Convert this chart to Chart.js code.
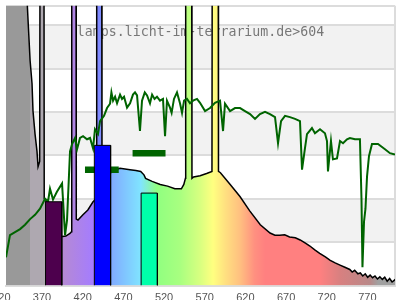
<!DOCTYPE html>
<html>
<head>
<meta charset="utf-8">
<script src="https://cdn.jsdelivr.net/npm/chart.js@4/dist/chart.umd.min.js"></script>
<style>
    html, body { margin: 0; padding: 0; background: #fff; overflow: hidden; }
    #wrap { position: relative; width: 400px; height: 312px; }
</style>
</head>
<body>
<div id="wrap"><canvas id="grafico"></canvas></div>
<script>
// wavelength ticks (nm)
const tickNm = [320, 370, 420, 470, 520, 570, 620, 670, 720, 770];

// lamp spectrum (relative units, 1 = one grid band)
const lampNm = [321, 346, 347.3, 348.5, 351, 353.4, 354.6, 357.1, 359.5, 360.8, 362.8, 363.2, 368.1, 368.4, 372, 388, 391, 395, 400, 401.9, 402.2, 407.5, 407.8, 409.9, 416, 422, 428.4, 432.6, 432.9, 439.1, 439.4, 449.3, 453, 461.6, 473.9, 481, 487, 491, 493, 501, 511, 520, 529, 537, 540, 542, 542.3, 549.7, 550, 552, 560, 568, 574.6, 574.9, 582.3, 582.6, 585, 597, 609, 621, 634, 646, 652, 658, 664, 670, 677, 683, 689, 695, 701, 707, 714, 720, 726, 732, 738, 744, 747, 750, 754, 757, 760, 763, 766, 769, 772, 775, 778, 781, 784, 787, 790, 793, 796, 800];
const lampVal = [7.5, 7.5, 6.58, 6.12, 5.19, 4.65, 4.02, 3.49, 3.09, 2.74, 2.86, 7.5, 7.5, 2.0, 1.9, 1.15, 1.13, 1.14, 1.2, 1.24, 7.5, 7.5, 1.53, 1.51, 1.63, 1.74, 1.93, 2.0, 7.5, 7.5, 2.3, 2.58, 2.65, 2.70, 2.67, 2.65, 2.63, 2.55, 2.47, 2.40, 2.33, 2.29, 2.23, 2.23, 2.33, 2.47, 7.5, 7.5, 2.47, 2.50, 2.53, 2.58, 2.63, 7.5, 7.5, 2.63, 2.6, 2.33, 2.05, 1.72, 1.40, 1.21, 1.16, 1.16, 1.17, 1.12, 1.10, 1.05, 0.98, 0.91, 0.82, 0.74, 0.66, 0.58, 0.52, 0.47, 0.42, 0.37, 0.31, 0.35, 0.27, 0.29, 0.22, 0.27, 0.19, 0.24, 0.18, 0.22, 0.15, 0.2, 0.14, 0.19, 0.1, 0.16, 0.08, 0.14];

// daylight reference
const sunNm = [321.4, 326.3, 332.5, 338.7, 344.8, 351, 357.1, 363.2, 369.4, 373, 375.5, 379.2, 384, 390.3, 394, 396.4, 400.1, 402.6, 406.3, 408.7, 412.4, 416.1, 421, 424.7, 428.4, 430.8, 434.5, 437, 441.9, 445.6, 449.3, 451, 453, 455.5, 457.9, 461.6, 464, 466.5, 470.2, 473.9, 477.5, 480, 482.5, 486.1, 488.6, 492, 494.8, 498.4, 501, 504, 507, 510.7, 514.4, 516.9, 519.3, 523, 525, 527.9, 531.6, 535.3, 537.8, 540.3, 543.9, 547.6, 551.3, 556.2, 559.9, 566.1, 572.2, 578.3, 584.5, 588.2, 590.6, 596.8, 602.9, 609.1, 615.2, 621.4, 627.5, 633.6, 639.8, 645.9, 652.1, 655.8, 659.5, 664.4, 670.5, 676.7, 682.8, 685.3, 688.9, 691.4, 697.5, 701.2, 707.4, 713.5, 716, 717.2, 720.9, 723.3, 728.3, 732, 735.7, 740.6, 744.2, 750.4, 756.5, 758.4, 759.6, 761.5, 763.3, 765.2, 767.6, 771.3, 778.7, 787.3, 793.4, 799.6];
const sunVal = [0.65, 1.16, 1.23, 1.30, 1.40, 1.53, 1.63, 1.77, 2.0, 1.93, 2.23, 1.98, 2.16, 2.35, 1.16, 1.5, 3.09, 3.26, 3.40, 3.14, 3.40, 3.44, 3.37, 3.40, 3.16, 3.60, 3.49, 3.79, 3.91, 4.09, 4.19, 4.45, 4.26, 4.35, 4.2, 4.4, 4.3, 4.35, 4.1, 4.2, 4.4, 4.45, 4.38, 3.56, 4.26, 4.45, 4.38, 4.2, 4.4, 4.3, 4.35, 4.26, 4.3, 3.44, 4.26, 4.1, 3.98, 4.3, 4.45, 4.2, 3.98, 4.26, 4.3, 4.2, 4.26, 4.3, 4.21, 4.02, 4.09, 4.21, 4.26, 3.56, 4.19, 4.02, 4.09, 4.09, 4.02, 3.95, 3.84, 3.95, 4.0, 3.95, 3.88, 3.28, 3.79, 3.91, 3.88, 3.84, 3.79, 2.67, 3.16, 3.49, 3.63, 3.51, 3.60, 3.51, 3.33, 2.63, 3.33, 2.91, 2.93, 3.33, 3.28, 3.37, 3.40, 3.37, 3.37, 2.0, 0.42, 1.47, 1.77, 2.51, 2.98, 3.26, 3.26, 3.14, 3.05, 3.02];

// coloured blocks
const barFrom = [370, 430, 487.5];
const barTo = [390, 450, 507.5];
const barVal = [1.93, 3.23, 2.13];

// green markers
const markFrom = [418.5, 477];
const markTo = [460, 517.5];
const markVal = [2.67, 3.05];

const titulo = 'lamps.licht-im-terrarium.de>604';

// styles
const barColor = ['#4d004d', '#0000ff', '#00ffaa'];
const bandNm = [321, 351, 351.3, 370, 390, 429, 431, 449.5, 487, 507, 535, 560, 576, 591, 609, 627, 640, 707, 732, 769, 779, 800];
const bandColor = ['#999999', '#999999', '#aea8b0', '#aea8b0', '#b68ad2', '#a47cff', '#8080ff', '#80a8ff', '#80e4ff', '#90ff80', '#a8ff80', '#d8ff80', '#ffff80', '#ffe080', '#ffc080', '#ff9080', '#ff8080', '#ff8080', '#d88080', '#b88888', '#a0a0a0', '#a0a0a0'];
const stripeFrom = [1, 3, 5];

function pontos(xs, ys) {
    return xs.map((x, i) => ({ x: x, y: ys[i] }));
}

function gradiente(context) {
    const chart = context.chart;
    const area = chart.chartArea;
    if (!area) {
        return '#999';
    }
    const sx = chart.scales.x;
    const g = chart.ctx.createLinearGradient(area.left, 0, area.right, 0);
    bandNm.forEach((nm, i) => {
        const p = (sx.getPixelForValue(nm) - area.left) / (area.right - area.left);
        g.addColorStop(Math.min(Math.max(p, 0), 1), bandColor[i]);
    });
    return g;
}

const fundo = {
    id: 'fundo',
    beforeDraw(chart) {
        const { ctx, chartArea: a, scales: { y } } = chart;
        ctx.save();
        ctx.fillStyle = '#f2f2f2';
        stripeFrom.forEach(v => {
            const top = y.getPixelForValue(v + 1);
            const bot = y.getPixelForValue(v);
            ctx.fillRect(a.left, top, a.right - a.left, bot - top);
        });
        ctx.restore();
    },
    beforeDatasetsDraw(chart) {
        const { ctx, chartArea: a } = chart;
        ctx.save();
        ctx.strokeStyle = '#dcdcdc';
        ctx.lineWidth = 2;
        ctx.beginPath();
        ctx.moveTo(a.right, a.top);
        ctx.lineTo(a.right, a.bottom);
        ctx.stroke();
        ctx.font = '13.25px "DejaVu Sans Mono"';
        ctx.fillStyle = '#777';
        ctx.textAlign = 'center';
        ctx.textBaseline = 'alphabetic';
        ctx.fillText(titulo, (a.left + a.right) / 2, 36);
        ctx.restore();
    }
};

const datasets = [];

barFrom.forEach((x0, i) => {
    datasets.push({
        data: pontos([x0, x0, barTo[i], barTo[i]], [0, barVal[i], barVal[i], 0]),
        borderColor: '#000',
        borderWidth: 1,
        backgroundColor: barColor[i],
        fill: 'origin',
        order: 0
    });
});

markFrom.forEach((x0, i) => {
    datasets.push({
        data: pontos([x0, markTo[i]], [markVal[i], markVal[i]]),
        borderColor: '#006400',
        borderWidth: 6.5,
        borderCapStyle: 'butt',
        fill: false,
        order: 1
    });
});

datasets.push({
    data: pontos(sunNm, sunVal),
    borderColor: '#006400',
    borderWidth: 2,
    fill: false,
    order: 2
});

datasets.push({
    data: pontos(lampNm, lampVal),
    borderColor: '#000',
    borderWidth: 1.5,
    backgroundColor: gradiente,
    fill: 'origin',
    order: 3
});

const ctx = document.getElementById('grafico').getContext('2d');

new Chart(ctx, {
    type: 'line',
    data: { datasets: datasets },
    options: {
        responsive: true,
        maintainAspectRatio: false,
        animation: false,
        elements: {
            point: { radius: 0 },
            line: { tension: 0 }
        },
        layout: {
            padding: { left: 6, right: 5, top: 5.65, bottom: 2.3 }
        },
        plugins: {
            legend: { display: false },
            tooltip: { enabled: false }
        },
        scales: {
            x: {
                type: 'linear',
                min: 321.4,
                max: 799.6,
                grid: { display: false, drawTicks: false },
                border: { display: true, color: '#dcdcdc', width: 2 },
                ticks: {
                    padding: 5.5,
                    autoSkip: false,
                    maxRotation: 0,
                    labelOffset: -3.5,
                    color: '#555',
                    font: { family: 'Liberation Sans', size: 11 },
                    callback: v => String(v)
                },
                afterBuildTicks: s => {
                    s.ticks = tickNm.map(v => ({ value: v }));
                },
                afterFit: s => {
                    s.paddingLeft = 0;
                    s.paddingRight = 0;
                }
            },
            y: {
                min: 0,
                max: 6.45,
                ticks: { display: false, stepSize: 1 },
                grid: { color: '#dcdcdc', lineWidth: 2, drawTicks: false },
                border: { display: false }
            }
        }
    },
    plugins: [fundo]
});
</script>
</body>
</html>
